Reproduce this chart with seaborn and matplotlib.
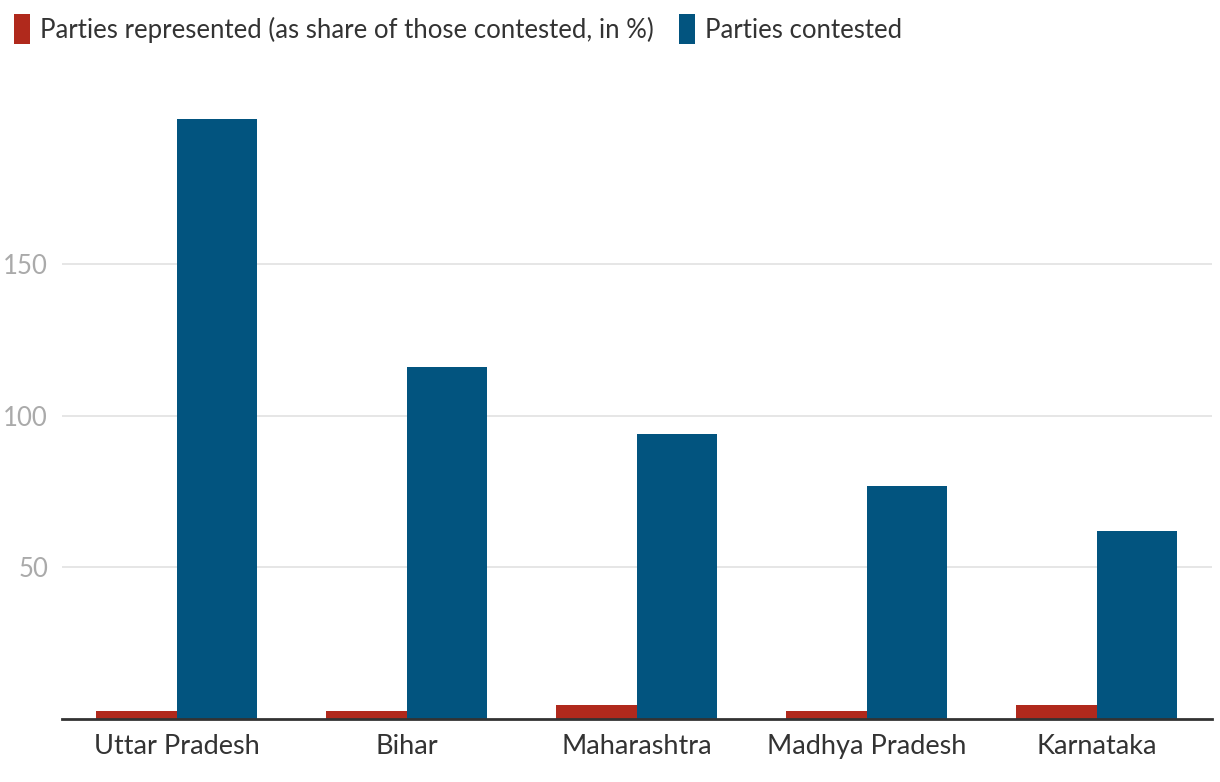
import seaborn as sns
import matplotlib.pyplot as plt
import pandas as pd

states = ["Uttar Pradesh", "Bihar", "Maharashtra", "Madhya Pradesh", "Karnataka"]
represented = [2.7, 2.7, 4.6, 2.7, 4.6]
contested = [198, 116, 94, 77, 62]

series_names = ["Parties represented (as share of those contested, in %)", "Parties contested"]
colors = ["#b0291c", "#02547f"]

df = pd.DataFrame({
    "State": states * 2,
    "Value": represented + contested,
    "Series": [series_names[0]] * len(states) + [series_names[1]] * len(states),
})

sns.set_style("white")
plt.rcParams['font.family'] = ['Lato', 'DejaVu Sans']

fig = plt.figure(figsize=(12.2, 7.82), dpi=100)
ax = fig.add_axes([0.0508, 0.0806, 0.9426, 0.845])

sns.barplot(data=df, x="State", y="Value", hue="Series", palette=colors,
            width=0.7, saturation=1, linewidth=0, ax=ax)

ax.set_xlim(-0.5, 4.5)
ax.set_ylim(0, 218)
ax.set_yticks([50, 100, 150])
ax.set_xlabel("")
ax.set_ylabel("")
ax.set_axisbelow(True)
ax.grid(axis='y', color='#e2e2e2', linewidth=1.2)

for side in ["top", "right", "left"]:
    ax.spines[side].set_visible(False)
ax.spines["bottom"].set_color("#333333")
ax.spines["bottom"].set_linewidth(2)

ax.tick_params(axis='x', length=0, labelsize=19.5, labelcolor='#333333', pad=11)
ax.tick_params(axis='y', length=0, labelsize=18.5, labelcolor='#aaaaaa', pad=10)

sns.move_legend(ax, "upper left", bbox_to_anchor=(0.0, 1.0), bbox_transform=fig.transFigure,
                ncol=2, frameon=False, title=None, fontsize=18.5,
                handlelength=0.6, handleheight=1.4, handletextpad=0.4,
                columnspacing=1.0, borderaxespad=0.15, labelcolor='#333333')

plt.savefig("out.png", dpi=100)
